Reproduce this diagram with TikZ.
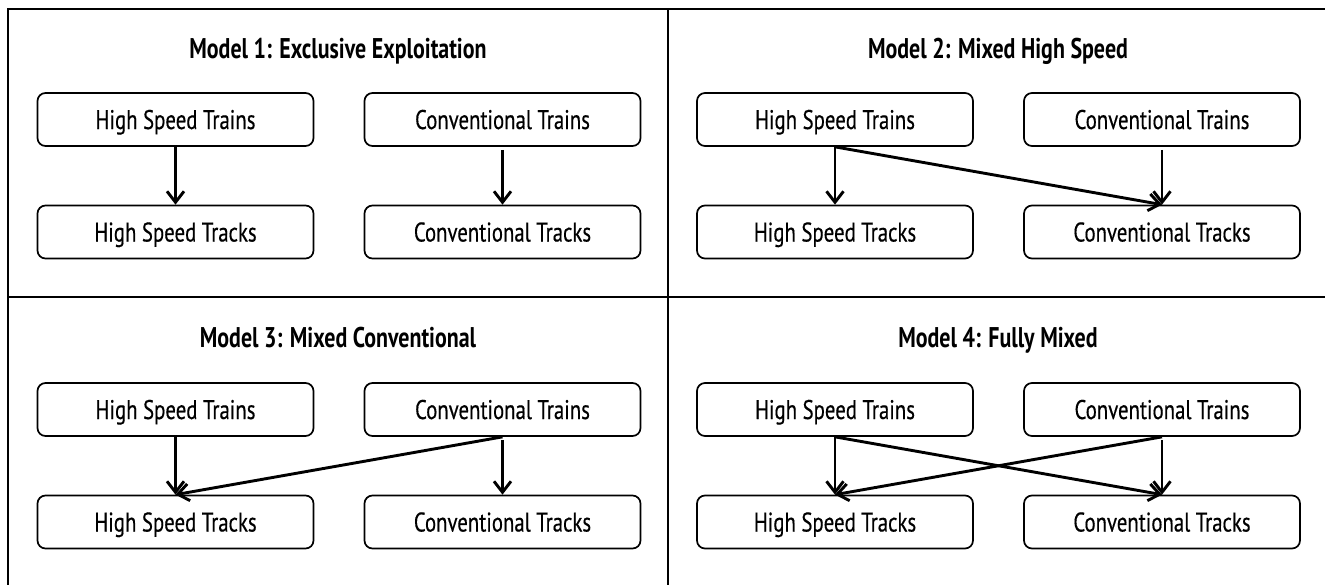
\documentclass[tikz,border=0pt]{standalone}
\usepackage{fontspec}
\setmainfont[FakeStretch=0.77,FakeBold=0.4,BoldFeatures={FakeBold=0}]{PT Sans}
\usetikzlibrary{arrows.meta,positioning}

\begin{document}
\begin{tikzpicture}[x=1pt,y=-1pt,
  box/.style={draw,rounded corners=8pt,line width=1.7pt,minimum width=276pt,minimum height=53pt,
    inner sep=0pt,text height=19pt,text depth=0pt,font=\fontsize{27}{30}\selectfont},
  heading/.style={inner sep=0pt,text height=20pt,text depth=0pt,font=\fontsize{28.5}{32}\selectfont\bfseries},
  link/.style={line width=2.9pt,-{Straight Barb[length=11pt,width=17pt]}},
  drop/.style={link,shorten <=3pt}]

  % keep the page at the frame's size, cutting its right and bottom edges
  \clip (0,0) rectangle (1325,584);

  % outer frame, split into four panels
  \draw[line width=2pt] (8,9) rectangle (1340,600);
  \draw[line width=2pt] (668,9) -- (668,600);
  \draw[line width=2pt] (8,297) -- (1340,297);

  % Model 1: each kind of train on its own tracks
  \node[heading] (title1) at (338,48) {Model 1: Exclusive Exploitation};
  \node[box] (hst1) at (175.5,119.5) {High Speed Trains};
  \node[box] (cvt1) at (502.5,119.5) {Conventional Trains};
  \node[box] (hsk1) at (175.5,232) {High Speed Tracks};
  \node[box] (cvk1) at (502.5,232) {Conventional Tracks};
  \draw[link] (hst1.south) -- (hsk1.north);
  \draw[drop] (cvt1.south) -- (cvk1.north);

  % Model 2: high speed trains also run on conventional tracks
  \node[heading] (title2) at (998,48) {Model 2: Mixed High Speed};
  \node[box] (hst2) at (835,119.5) {High Speed Trains};
  \node[box] (cvt2) at (1162,119.5) {Conventional Trains};
  \node[box] (hsk2) at (835,232) {High Speed Tracks};
  \node[box] (cvk2) at (1162,232) {Conventional Tracks};
  \draw[link] (hst2.south) -- (hsk2.north);
  \draw[link] (hst2.south) -- (cvk2.north);
  \draw[drop] (cvt2.south) -- (cvk2.north);

  % Model 3: conventional trains also run on high speed tracks
  \node[heading] (title3) at (338,337) {Model 3: Mixed Conventional};
  \node[box] (hst3) at (175.5,409.5) {High Speed Trains};
  \node[box] (cvt3) at (502.5,409.5) {Conventional Trains};
  \node[box] (hsk3) at (175.5,522) {High Speed Tracks};
  \node[box] (cvk3) at (502.5,522) {Conventional Tracks};
  \draw[link] (hst3.south) -- (hsk3.north);
  \draw[link] (cvt3.south) -- (hsk3.north);
  \draw[drop] (cvt3.south) -- (cvk3.north);

  % Model 4: both kinds of train on both kinds of track
  \node[heading] (title4) at (998,337) {Model 4: Fully Mixed};
  \node[box] (hst4) at (835,409.5) {High Speed Trains};
  \node[box] (cvt4) at (1162,409.5) {Conventional Trains};
  \node[box] (hsk4) at (835,522) {High Speed Tracks};
  \node[box] (cvk4) at (1162,522) {Conventional Tracks};
  \draw[link] (hst4.south) -- (hsk4.north);
  \draw[link] (hst4.south) -- (cvk4.north);
  \draw[link] (cvt4.south) -- (hsk4.north);
  \draw[drop] (cvt4.south) -- (cvk4.north);
\end{tikzpicture}
\end{document}
